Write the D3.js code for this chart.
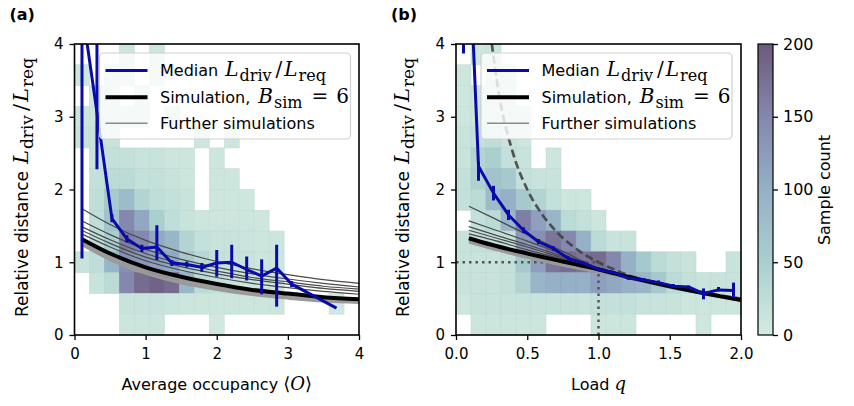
<!DOCTYPE html>
<html>
<head>
<meta charset="utf-8">
<script src="https://cdn.jsdelivr.net/npm/d3@7"></script>
<style>
  body { margin: 0; background: #fff; }
  svg { display: block; }
  text { font-family: "DejaVu Sans", sans-serif; fill: #000; }
</style>
</head>
<body>
<svg id="chart" width="854" height="406"></svg>
<script>
// ---------- data ----------
// 2D histogram counts, rows listed from top (highest relative distance) to bottom
const occBins = 19, occMax = 4;
const loadBins = 19, loadMax = 2;
const distBins = 14, distMax = 4;

const countsOcc = [
  [0,0,0,10,0,10,0,0,0,0,0,0,0,0,0,0,0,0,0],
  [8,0,8,10,0,8,0,0,0,0,0,0,0,0,0,0,0,0,0],
  [0,8,10,0,8,0,0,0,0,0,0,0,0,0,0,0,0,0,0],
  [10,10,10,10,8,0,8,0,0,0,0,0,0,0,0,0,0,0,0],
  [15,15,15,0,0,0,0,0,10,0,10,0,0,0,0,0,0,0,0],
  [0,15,20,20,15,15,10,10,0,10,0,0,0,0,0,0,0,0,0],
  [0,20,30,30,20,20,15,10,0,10,10,0,0,0,0,0,0,0,0],
  [0,25,60,80,40,25,20,15,0,10,10,8,0,0,0,0,0,0,0],
  [0,25,70,150,110,50,25,15,10,10,10,10,8,0,0,0,0,0,0],
  [0,25,50,160,150,110,90,40,20,15,15,12,10,10,0,0,0,0,0],
  [15,25,90,140,130,120,110,60,35,20,15,15,10,10,0,0,0,0,0],
  [0,15,30,150,180,190,180,90,30,20,15,10,10,10,0,0,0,0,0],
  [0,0,0,15,15,15,12,10,10,10,10,10,10,10,0,0,0,5,0],
  [0,0,0,10,10,10,0,0,0,5,0,0,0,0,0,0,0,0,0]
];

const countsLoad = [
  [0,8,10,0,0,0,0,0,0,0,0,0,0,0,0,0,0,0,0],
  [10,0,10,8,0,0,0,0,0,0,0,0,0,0,0,0,0,0,0],
  [8,8,10,10,0,0,0,0,0,0,0,0,0,0,0,0,0,0,0],
  [10,12,15,15,8,0,0,0,0,0,0,0,0,0,0,0,0,0,0],
  [15,20,25,15,10,0,0,0,0,0,0,0,0,0,0,0,0,0,0],
  [15,40,50,20,15,0,10,0,0,0,0,0,0,0,0,0,0,0,0],
  [20,45,70,60,20,15,15,0,0,0,0,0,0,0,0,0,0,0,0],
  [20,30,80,100,60,40,20,10,10,0,0,0,0,0,0,0,0,0,0],
  [0,20,30,90,160,120,90,30,20,10,0,0,0,0,0,0,0,0,0],
  [15,20,20,20,130,140,170,150,100,30,15,15,0,0,0,0,0,0,0],
  [15,15,15,20,60,120,170,180,170,180,150,100,60,30,20,15,0,0,15],
  [15,15,15,20,40,90,100,100,100,120,110,100,90,60,30,20,15,15,15],
  [10,15,15,15,15,15,15,15,15,20,20,20,15,15,15,10,10,10,10],
  [0,10,10,10,10,10,0,0,0,10,10,10,0,0,0,0,8,0,0]
];

// median relative distance per bin, with spread (lower / upper)
const medOcc  = [4.5, 3.06, 1.60, 1.32, 1.19, 1.21, 0.99, 0.97, 0.93, 0.99, 1.00, 0.90, 0.81, 0.92, 0.70, null, null, 0.37, null];
const loOcc   = [1.05, 2.28, 1.55, 1.27, 1.14, 1.03, 0.95, 0.93, 0.87, 0.80, 0.78, 0.75, 0.56, 0.39, 0.66, null, null, 0.37, null];
const hiOcc   = [8.0, 8.0, 1.66, 1.37, 1.24, 1.51, 1.03, 1.01, 0.99, 1.17, 1.24, 1.08, 1.04, 1.24, 0.74, null, null, 0.37, null];

const medLoad = [7.2, 2.32, 1.95, 1.65, 1.44, 1.28, 1.19, 1.05, 0.99, 0.90, 0.86, 0.78, 0.76, 0.72, 0.67, 0.66, 0.57, 0.62, 0.61];
const loLoad  = [3.87, 2.12, 1.85, 1.58, 1.40, 1.25, 1.16, 1.02, 0.97, 0.88, 0.84, 0.76, 0.74, 0.70, 0.65, 0.64, 0.49, 0.60, 0.51];
const hiLoad  = [10.0, 2.38, 2.05, 1.72, 1.48, 1.32, 1.22, 1.08, 1.01, 0.92, 0.88, 0.80, 0.78, 0.75, 0.70, 0.68, 0.64, 0.66, 0.72];

// simulated relative distance curves
const simOccX = [0.1, 0.5, 1, 1.5, 2, 2.5, 3, 3.5, 4];
const simOccMain = [1.32, 1.12, 0.93, 0.80, 0.70, 0.62, 0.57, 0.52, 0.49];
const simOccUpper = [
  [1.74, 1.52, 1.30, 1.14, 1.01, 0.91, 0.83, 0.76, 0.71],
  [1.57, 1.38, 1.18, 1.04, 0.93, 0.84, 0.77, 0.71, 0.66],
  [1.49, 1.31, 1.12, 0.98, 0.88, 0.79, 0.73, 0.67, 0.63],
  [1.44, 1.26, 1.07, 0.94, 0.84, 0.76, 0.70, 0.64, 0.60],
  [1.39, 1.21, 1.02, 0.89, 0.79, 0.71, 0.65, 0.60, 0.56]
];
const simOccLower = [
  [1.28, 1.08, 0.89, 0.76, 0.66, 0.59, 0.54, 0.50, 0.47],
  [1.26, 1.05, 0.86, 0.73, 0.64, 0.57, 0.52, 0.48, 0.45],
  [1.24, 1.03, 0.84, 0.71, 0.62, 0.55, 0.50, 0.46, 0.44]
];

const simLoadX = [0.09, 0.25, 0.5, 0.75, 1.0, 1.25, 1.5, 1.75, 2.0];
const simLoadMain = [1.33, 1.24, 1.12, 1.01, 0.90, 0.78, 0.67, 0.57, 0.48];
const simLoadUpper = [
  [1.77, 1.62, 1.38, 1.15, 0.92, 0.79, 0.68, 0.58, 0.49],
  [1.57, 1.46, 1.29, 1.11, 0.92, 0.79, 0.68, 0.58, 0.49],
  [1.49, 1.39, 1.24, 1.08, 0.91, 0.79, 0.68, 0.58, 0.49],
  [1.44, 1.35, 1.21, 1.06, 0.91, 0.79, 0.68, 0.57, 0.48],
  [1.39, 1.31, 1.17, 1.04, 0.90, 0.78, 0.67, 0.57, 0.48]
];
const simLoadLower = [
  [1.29, 1.20, 1.08, 0.97, 0.87, 0.77, 0.66, 0.56, 0.47],
  [1.27, 1.18, 1.06, 0.95, 0.86, 0.76, 0.65, 0.56, 0.47]
];

// reference curve 1/q and the (1, 1) crosshair
const refLoadX = [0.24, 0.3, 0.4, 0.5, 0.6, 0.7, 0.8, 0.9, 1.0, 1.2, 1.4, 1.6, 1.8, 2.0];
const refLoadY = [4.17, 3.33, 2.5, 2.0, 1.67, 1.43, 1.25, 1.11, 1.0, 0.83, 0.71, 0.63, 0.56, 0.5];
const crossQ = 1, crossD = 1;

const yTicks = [0, 1, 2, 3, 4];
const occTicks = [0, 1, 2, 3, 4];
const loadTicks = [0, 0.5, 1.0, 1.5, 2.0];
const cbTicks = [0, 50, 100, 150, 200];

// ---------- drawing ----------
const svg = d3.select("#chart");
const yScale = d3.scaleLinear([0, distMax], [335, 44]);
const cbColors = ["#d4ece2", "#aacfcf", "#95b0c7", "#8487ae", "#6d5a7c"];
const color = d3.scaleLinear(cbTicks, cbColors).clamp(true);

const BLUE = "#0a0aaa";
const SANS = '"DejaVu Sans", sans-serif';
const SERIF = '"DejaVu Serif", serif';

// writes plain + math runs into a text element
// m: "i" italic math, "r" upright math, "sub" subscript; dx: extra spacing before the run
function richText(sel, parts, size, mathSize, subSize) {
  let lowered = false;
  parts.forEach(p => {
    const t = sel.append("tspan").text(p.t);
    let dy = 0;
    if (p.m === "sub") {
      t.attr("font-family", SERIF).attr("font-size", subSize);
      if (!lowered) { dy = mathSize * 0.24; lowered = true; }
    } else {
      if (lowered) { dy = -mathSize * 0.24; lowered = false; }
      if (p.m === "i") t.attr("font-family", SERIF).attr("font-style", "italic").attr("font-size", mathSize);
      else if (p.m === "r") t.attr("font-family", SERIF).attr("font-size", mathSize);
      else t.attr("font-size", size);
    }
    if (dy) t.attr("dy", dy);
    if (p.dx) t.attr("dx", p.dx);
  });
}
const ldrivParts = [
  {t: "L", m: "i", dx: 7}, {t: "driv", m: "sub", dx: 1}, {t: "/", m: "r", dx: 4},
  {t: "L", m: "i", dx: 2}, {t: "req", m: "sub", dx: 1}
];

function panel(opts) {
  const {x, counts, nx, xMax, med, lo, hi, simX, simMain, simUpper, simLower, ticks, tickFmt, clipId} = opts;
  const g = svg.append("g");
  const [x0, x1] = x.range();
  const [yb, yt] = yScale.range();

  svg.append("clipPath").attr("id", clipId)
    .append("rect").attr("x", x0).attr("y", yt).attr("width", x1 - x0).attr("height", yb - yt);

  // histogram cells
  const bw = xMax / nx, bh = distMax / distBins;
  const cells = [];
  counts.forEach((row, ri) => {
    const r = distBins - 1 - ri;
    row.forEach((v, c) => { if (v > 0) cells.push({r, c, v}); });
  });
  g.append("g").selectAll("rect").data(cells).join("rect")
    .attr("x", d => x(d.c * bw))
    .attr("y", d => yScale((d.r + 1) * bh))
    .attr("width", d => x((d.c + 1) * bw) - x(d.c * bw))
    .attr("height", d => yScale(d.r * bh) - yScale((d.r + 1) * bh))
    .attr("fill", d => color(d.v))
    .attr("stroke", d => d3.color(color(d.v)).darker(0.12))
    .attr("stroke-width", 0.6);

  const plot = g.append("g").attr("clip-path", `url(#${clipId})`);
  if (opts.extra) opts.extra(plot);

  const curve = d3.line().x(d => x(d[0])).y(d => yScale(d[1])).curve(d3.curveMonotoneX);
  simUpper.forEach(s => plot.append("path").attr("d", curve(simX.map((v, i) => [v, s[i]])))
    .attr("fill", "none").attr("stroke", "#4a4a4a").attr("stroke-width", 1.2));
  simLower.forEach(s => plot.append("path").attr("d", curve(simX.map((v, i) => [v, s[i]])))
    .attr("fill", "none").attr("stroke", "#9a9a9a").attr("stroke-width", 2));
  plot.append("path").attr("d", curve(simX.map((v, i) => [v, simMain[i]])))
    .attr("fill", "none").attr("stroke", "#000").attr("stroke-width", 4);

  // median line with spread bars
  const centers = med.map((m, i) => (i + 0.5) * bw);
  const pts = med.map((m, i) => [centers[i], m, lo[i], hi[i]]).filter(d => d[1] != null);
  plot.append("path")
    .attr("d", d3.line().x(d => x(d[0])).y(d => yScale(d[1]))(pts))
    .attr("fill", "none").attr("stroke", BLUE).attr("stroke-width", 3).attr("stroke-linejoin", "round");
  plot.append("g").selectAll("line").data(pts.filter(d => d[3] - d[2] > 0)).join("line")
    .attr("x1", d => x(d[0])).attr("x2", d => x(d[0]))
    .attr("y1", d => yScale(d[2])).attr("y2", d => yScale(d[3]))
    .attr("stroke", BLUE).attr("stroke-width", 3);

  // axes
  const ax = g.append("g").attr("transform", `translate(0,${yb})`)
    .call(d3.axisBottom(x).tickValues(ticks).tickFormat(tickFmt).tickSizeOuter(0).tickSize(5).tickPadding(8));
  const ay = g.append("g").attr("transform", `translate(${x0},0)`)
    .call(d3.axisLeft(yScale).tickValues(yTicks).tickFormat(d3.format("d")).tickSizeOuter(0).tickSize(5).tickPadding(6));
  [ax, ay].forEach(a => {
    a.select(".domain").remove();
    a.selectAll(".tick line").attr("stroke", "#000").attr("stroke-width", 1.3);
    a.selectAll(".tick text").attr("font-family", SANS).attr("font-size", 15).attr("fill", "#000");
  });
  g.append("rect").attr("x", x0).attr("y", yt).attr("width", x1 - x0).attr("height", yb - yt)
    .attr("fill", "none").attr("stroke", "#000").attr("stroke-width", 1.6);

  // axis titles
  const yl = g.append("text")
    .attr("transform", `translate(${x0 - 47},${(yb + yt) / 2 - 2}) rotate(-90)`)
    .attr("text-anchor", "middle");
  richText(yl, [{t: "Relative distance"}].concat(ldrivParts), 17, 21, 17);
  const xl = g.append("text").attr("x", (x0 + x1) / 2).attr("y", 390)
    .attr("text-anchor", "middle");
  richText(xl, opts.xTitle, 16, 18, 13);

  g.append("text").attr("x", x0 - 65).attr("y", 20).attr("font-weight", "bold")
    .attr("font-size", 16).text(opts.tag);

  // legend
  const L = opts.legend;
  const lg = g.append("g");
  lg.append("rect").attr("x", L.x).attr("y", 53).attr("width", L.w).attr("height", 86).attr("rx", 4)
    .attr("fill", "#fff").attr("fill-opacity", 0.8).attr("stroke", "#d0d0d0").attr("stroke-width", 1.2);
  const entries = [
    {stroke: BLUE, w: 3, parts: [{t: "Median"}].concat(ldrivParts), y: 76},
    {stroke: "#000", w: 4, parts: [{t: "Simulation,"}, {t: "B", m: "i", dx: 8}, {t: "sim", m: "sub", dx: 1},
      {t: "=", m: "r", dx: 9}, {t: "6", m: "r", dx: 8}], y: 102.7},
    {stroke: "#8a8a8a", w: 1.5, parts: [{t: "Further simulations"}], y: 128.7}
  ];
  entries.forEach(e => {
    lg.append("line").attr("x1", L.x + 6).attr("x2", L.x + 48).attr("y1", e.y - 5.5).attr("y2", e.y - 5.5)
      .attr("stroke", e.stroke).attr("stroke-width", e.w);
    const t = lg.append("text").attr("x", L.x + 60.5).attr("y", e.y);
    richText(t, e.parts, 16, 20, 16);
  });
}

panel({
  x: d3.scaleLinear([0, occMax], [74.5, 359]),
  counts: countsOcc, nx: occBins, xMax: occMax,
  med: medOcc, lo: loOcc, hi: hiOcc,
  simX: simOccX, simMain: simOccMain, simUpper: simOccUpper, simLower: simOccLower,
  ticks: occTicks, tickFmt: d3.format("d"), clipId: "clipA", tag: "(a)",
  xTitle: [{t: "Average occupancy "}, {t: "⟨", m: "r"}, {t: "O", m: "i"}, {t: "⟩", m: "r"}],
  legend: {x: 99.5, w: 251}
});

const xLoad = d3.scaleLinear([0, loadMax], [456, 741]);
panel({
  x: xLoad,
  counts: countsLoad, nx: loadBins, xMax: loadMax,
  med: medLoad, lo: loLoad, hi: hiLoad,
  simX: simLoadX, simMain: simLoadMain, simUpper: simLoadUpper, simLower: simLoadLower,
  ticks: loadTicks, tickFmt: d3.format(".1f"), clipId: "clipB", tag: "(b)",
  xTitle: [{t: "Load "}, {t: "q", m: "i"}],
  legend: {x: 481, w: 251},
  extra: plot => {
    plot.append("path")
      .attr("d", d3.line().x(d => xLoad(d[0])).y(d => yScale(d[1])).curve(d3.curveMonotoneX)(refLoadX.map((v, i) => [v, refLoadY[i]])))
      .attr("fill", "none").attr("stroke", "#3c3c3c").attr("stroke-opacity", 0.85)
      .attr("stroke-width", 2.7).attr("stroke-dasharray", "8,4");
    plot.append("line").attr("x1", xLoad(0)).attr("x2", xLoad(crossQ)).attr("y1", yScale(crossD)).attr("y2", yScale(crossD))
      .attr("stroke", "#555").attr("stroke-width", 2.5).attr("stroke-dasharray", "2.5,4");
    plot.append("line").attr("x1", xLoad(crossQ)).attr("x2", xLoad(crossQ)).attr("y1", yScale(0)).attr("y2", yScale(crossD))
      .attr("stroke", "#555").attr("stroke-width", 2.5).attr("stroke-dasharray", "2.5,4");
  }
});

// colour bar
const cb = svg.append("g");
const grad = svg.append("defs").append("linearGradient").attr("id", "cbGrad")
  .attr("x1", 0).attr("x2", 0).attr("y1", 1).attr("y2", 0);
cbTicks.forEach((t, i) => grad.append("stop").attr("offset", t / 200).attr("stop-color", cbColors[i]));
const cbY = d3.scaleLinear([0, 200], [335, 44]);
cb.append("rect").attr("x", 758).attr("y", 44).attr("width", 15).attr("height", 291)
  .attr("fill", "url(#cbGrad)").attr("stroke", "#000").attr("stroke-width", 1.2);
const cbAxis = cb.append("g").attr("transform", "translate(773,0)")
  .call(d3.axisRight(cbY).tickValues(cbTicks).tickSize(5).tickPadding(5).tickSizeOuter(0));
cbAxis.select(".domain").remove();
cbAxis.selectAll(".tick line").attr("stroke", "#000").attr("stroke-width", 1.3);
cbAxis.selectAll(".tick text").attr("font-family", SERIF).attr("font-size", 16).attr("fill", "#000");
cb.append("text").attr("transform", "translate(830,190) rotate(-90)")
  .attr("text-anchor", "middle").attr("font-size", 16).text("Sample count");
</script>
</body>
</html>
